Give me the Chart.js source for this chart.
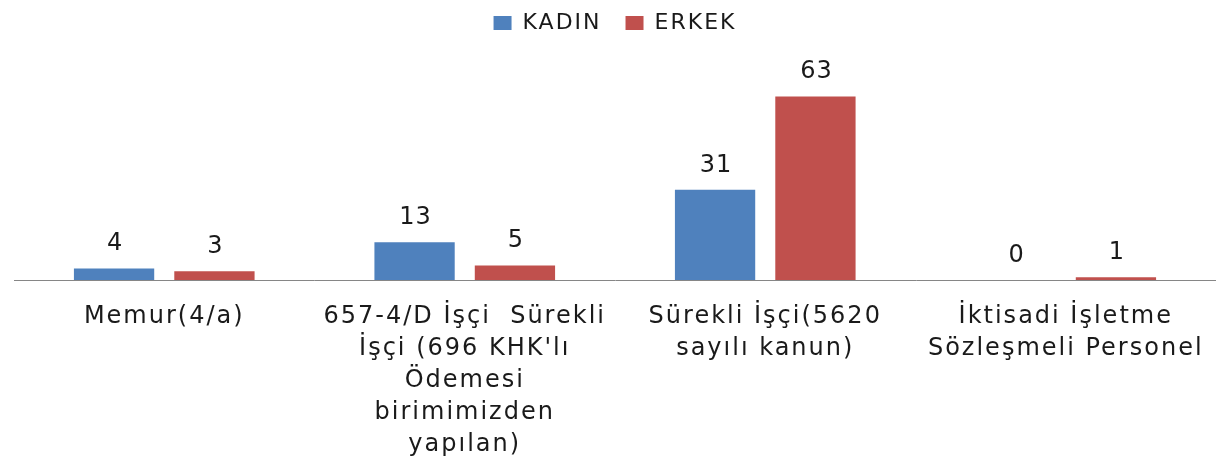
<!DOCTYPE html>
<html>
<head>
<meta charset="utf-8">
<script src="https://cdn.jsdelivr.net/npm/chart.js@4"></script>
<style>
    html, body { margin: 0; padding: 0; background: #fff; }
    #wrap { width: 1216px; height: 465px; }
</style>
</head>
<body>
<div id="wrap"><canvas id="chart"></canvas></div>
<script>
// chart data
const categories = [
    'Memur(4/a)',
    ['657-4/D İşçi  Sürekli', "İşçi (696 KHK'lı", 'Ödemesi', 'birimimizden', 'yapılan)'],
    ['Sürekli İşçi(5620', 'sayılı kanun)'],
    ['İktisadi İşletme', 'Sözleşmeli Personel']
];
const seriesNames = ['KADIN', 'ERKEK'];
const kadinValues = [4, 13, 31, 0];
const erkekValues = [3, 5, 63, 1];

const FONT = '"DejaVu Sans", Verdana, sans-serif';
const SPACING = '2px';

// letter spacing for the wide looking text of the original
const spacingPlugin = {
    id: 'spacing',
    beforeInit(chart) { chart.ctx.letterSpacing = SPACING; },
    beforeLayout(chart) { chart.ctx.letterSpacing = SPACING; },
    beforeDraw(chart) { chart.ctx.letterSpacing = SPACING; }
};

// value labels above each bar
const valueLabels = {
    id: 'valueLabels',
    afterDatasetsDraw(chart) {
        const ctx = chart.ctx;
        ctx.save();
        ctx.letterSpacing = '1px';
        ctx.font = '24px ' + FONT;
        ctx.fillStyle = '#1a1a1a';
        ctx.textAlign = 'center';
        ctx.textBaseline = 'alphabetic';
        chart.data.datasets.forEach((ds, i) => {
            chart.getDatasetMeta(i).data.forEach((bar, j) => {
                ctx.fillText(String(ds.data[j]), bar.x + 1, bar.y - 18);
            });
        });
        ctx.restore();
    }
};

new Chart(document.getElementById('chart'), {
    type: 'bar',
    data: {
        labels: categories,
        datasets: [
            { label: seriesNames[0], data: kadinValues, backgroundColor: '#4F81BD' },
            { label: seriesNames[1], data: erkekValues, backgroundColor: '#C0504D' }
        ]
    },
    options: {
        responsive: true,
        maintainAspectRatio: false,
        animation: false,
        categoryPercentage: 0.668,
        barPercentage: 0.8,
        layout: { padding: { left: 14, right: 0, top: -12, bottom: -17 } },
        plugins: {
            legend: {
                position: 'top',
                labels: {
                    boxWidth: 18,
                    boxHeight: 14,
                    padding: 24,
                    color: '#1a1a1a',
                    font: { family: FONT, size: 22 }
                }
            },
            tooltip: { enabled: false }
        },
        scales: {
            x: {
                grid: { display: true, color: 'transparent', drawTicks: false },
                border: { display: true, color: '#868686', width: 1 },
                ticks: {
                    color: '#1a1a1a',
                    padding: 21,
                    maxRotation: 0,
                    autoSkip: false,
                    font: { family: FONT, size: 24, lineHeight: 1.333 }
                },
                // let the outer labels run to the edges like the original
                afterFit(scale) {
                    scale.paddingLeft = 0;
                    scale.paddingRight = 0;
                }
            },
            y: {
                display: false,
                min: 0,
                max: 81
            }
        }
    },
    plugins: [spacingPlugin, valueLabels]
});
</script>
</body>
</html>
